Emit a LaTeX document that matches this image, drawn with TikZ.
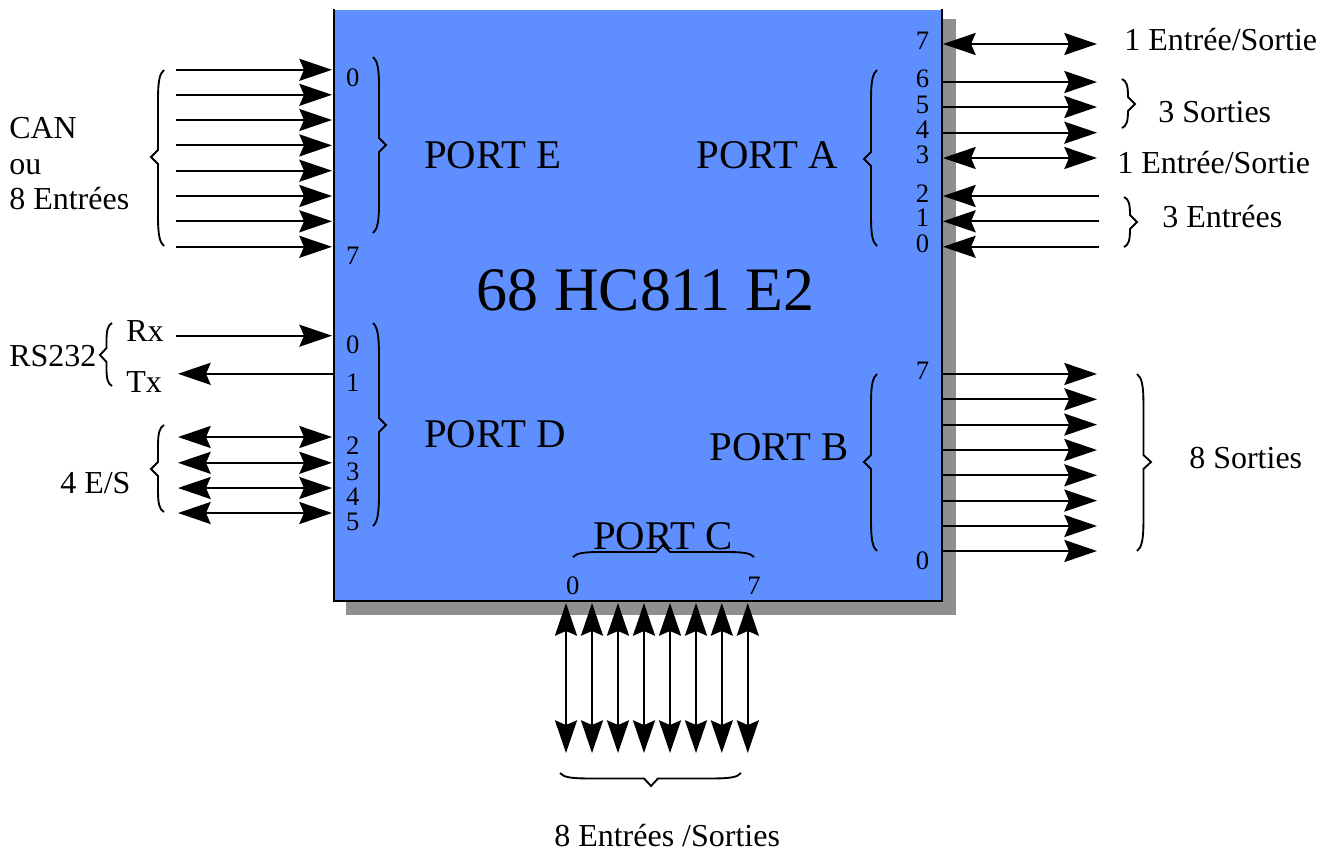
\documentclass[tikz,border=0pt]{standalone}
\usepackage{fontspec}
\setmainfont{Liberation Serif}
\usetikzlibrary{arrows.meta}
\definecolor{chipblue}{HTML}{5F8FFF}
\definecolor{shadowgray}{HTML}{8F8F8F}
\tikzset{
  bighead/.tip={Stealth[length=24.5pt,width=16.5pt,inset=3.5pt]},
  wire/.style={line width=1.6pt},
  oneway/.style={wire,-{bighead}},
  twoway/.style={wire,{bighead}-{bighead}},
  bracep/.style={line width=1.4pt,line join=miter},
  lab/.style={inner sep=0pt,anchor=base west,font=\fontsize{24pt}{24pt}\selectfont},
  portlab/.style={inner sep=0pt,anchor=base west,font=\fontsize{30.6pt}{30.6pt}\selectfont},
  titlelab/.style={inner sep=0pt,anchor=base west,font=\fontsize{46.4pt}{46.4pt}\selectfont},
  pinlab/.style={inner sep=0pt,anchor=center,font=\fontsize{20pt}{20pt}\selectfont},
  chipedge/.style={line width=1.5pt,line cap=rect}
}
% connector between two named coordinates
\newcommand{\conn}[6]{\coordinate (#1a) at (#3,#4);\coordinate (#1b) at (#5,#6);\draw[#2] (#1a) -- (#1b);}
% vertical brace: end x, signed depth, y top, y tip, y bottom
\newcommand{\vbrace}[5]{%
  \pgfmathsetmacro{\Lt}{0.2*(#4-#3)+12}\pgfmathsetmacro{\Lb}{0.2*(#5-#4)+12}%
  \draw[bracep] (#1,#3) .. controls ({#1+0.35*#2},{#3+0.12*\Lt}) and ({#1+0.46*#2},{#3+0.4*\Lt}) .. ({#1+0.46*#2},{#3+\Lt})
   -- ({#1+0.46*#2},{#4-7}) -- ({#1+#2},#4) -- ({#1+0.46*#2},{#4+7}) -- ({#1+0.46*#2},{#5-\Lb})
   .. controls ({#1+0.46*#2},{#5-0.4*\Lb}) and ({#1+0.35*#2},{#5-0.12*\Lb}) .. (#1,#5);}
% horizontal brace: end y, signed depth, x left, x tip, x right
\newcommand{\hbrace}[5]{%
  \pgfmathsetmacro{\Lt}{0.2*(#4-#3)+12}\pgfmathsetmacro{\Lb}{0.2*(#5-#4)+12}%
  \draw[bracep] (#3,#1) .. controls ({#3+0.12*\Lt},{#1+0.35*#2}) and ({#3+0.4*\Lt},{#1+0.42*#2}) .. ({#3+\Lt},{#1+0.42*#2})
   -- ({#4-7},{#1+0.42*#2}) -- (#4,{#1+#2}) -- ({#4+7},{#1+0.42*#2}) -- ({#5-\Lb},{#1+0.42*#2})
   .. controls ({#5-0.4*\Lb},{#1+0.42*#2}) and ({#5-0.12*\Lb},{#1+0.35*#2}) .. (#5,#1);}
\begin{document}
\begin{tikzpicture}[x=0.75pt,y=-0.75pt]
\useasboundingbox (0,0) rectangle (1332,851);
% shadow and chip body
\node (shadow) [fill=shadowgray,inner sep=0pt,minimum width=457.5pt,minimum height=447pt] at (651,317) {};
\node (chip) [fill=chipblue,inner sep=0pt,minimum width=456pt,minimum height=443.25pt] at (638,305.5) {};
\draw[chipedge] (chip.north west) -- (chip.south west) -- (chip.south east) -- (chip.north east);
% port E
\foreach \i/\y in {0/69.8,1/94.8,2/120,3/145.4,4/170.7,5/196,6/221.3,7/246.8}{\conn{e\i}{oneway}{176}{\y}{332}{\y}}
% port D
\conn{rx}{oneway}{176}{335.7}{332}{335.7}
\conn{tx}{oneway}{334}{373.8}{178}{373.8}
\foreach \i/\y in {2/437,3/462.8,4/488,5/513}{\conn{d\i}{twoway}{178}{\y}{332}{\y}}
% port A
\foreach \i/\y in {7/44,3/158}{\conn{a\i}{twoway}{943}{\y}{1097}{\y}}
\foreach \i/\y in {6/82,5/107,4/132.7}{\conn{a\i}{oneway}{942}{\y}{1097}{\y}}
\foreach \i/\y in {2/196,1/221.3,0/246.8}{\conn{a\i}{oneway}{1099}{\y}{943}{\y}}
% port B
\foreach \i/\y in {7/374,6/399.3,5/424.6,4/450,3/475.3,2/500.6,1/526,0/551}{\conn{b\i}{oneway}{942}{\y}{1097}{\y}}
% port C
\foreach \i/\x in {0/566,1/592,2/618,3/644,4/670,5/696,6/721.8,7/747.8}{\conn{c\i}{twoway}{\x}{603}{\x}{753}}
% braces
\vbrace{164}{-13}{70}{157}{246}
\vbrace{373}{13}{57}{145}{233}
\vbrace{112}{-12}{323}{355}{386}
\vbrace{164}{-13}{425}{469}{512}
\vbrace{373}{13}{323}{425}{526}
\vbrace{877}{-13}{70}{159}{246}
\vbrace{877}{-13}{374}{462}{551}
\vbrace{1122}{13}{79}{104}{128}
\vbrace{1124}{13}{197}{222}{247}
\vbrace{1137}{14}{374}{462}{551}
\hbrace{557}{-12}{573}{663}{754}
\hbrace{773}{13}{560}{651}{741}
% pin numbers
\foreach \n/\t/\x/\y in {pe0/0/352.7/78,pe7/7/352.7/256,pd0/0/352.7/345,pd1/1/352.7/383,pd2/2/352.7/446,pd3/3/352.7/472,pd4/4/352.7/497,pd5/5/352.7/522,
  pa7/7/922.5/41,pa6/6/922.5/79,pa5/5/922.5/105,pa4/4/922.5/130,pa3/3/922.5/155,pa2/2/922.5/194,pa1/1/922.5/218,pa0/0/922.5/244,
  pb7/7/922.5/371,pb0/0/922.5/561,pc0/0/572.7/586,pc7/7/754/586}{\node (\n) [pinlab] at (\x,\y) {\t};}
% labels
\node (lcan) [lab] at (9,138) {CAN};
\node (lou) [lab] at (9,174) {ou};
\node (lent) [lab] at (9,209) {8 Entrées};
\node (lrs) [lab] at (9,366) {RS232};
\node (lrx) [lab] at (126,341) {Rx};
\node (ltx) [lab] at (126,392) {Tx};
\node (les) [lab] at (60,493) {4 E/S};
\node (lio1) [lab] at (1124,50) {1 Entrée/Sortie};
\node (lso) [lab] at (1158,122) {3 Sorties};
\node (lio2) [lab] at (1117,173) {1 Entrée/Sortie};
\node (len3) [lab] at (1162,227) {3 Entrées};
\node (lso8) [lab] at (1189,468) {8 Sorties};
\node (lesb) [lab] at (554,846) {8 Entrées /Sorties};
\node (porte) [portlab] at (424,168) {PORT E};
\node (porta) [portlab] at (696.5,168) {PORT A};
\node (portd) [portlab] at (424,447) {PORT D};
\node (portb) [portlab] at (709.5,460) {PORT B};
\node (portc) [portlab] at (593,549) {PORT C};
\node (title) [titlelab] at (476.5,310) {68 HC811 E2};
\end{tikzpicture}
\end{document}
